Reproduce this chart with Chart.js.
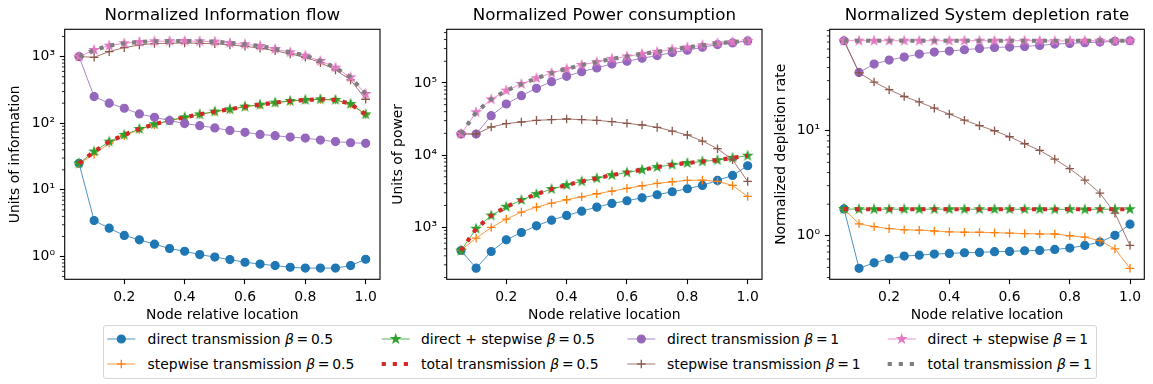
<!DOCTYPE html>
<html><head><meta charset="utf-8">
<script src="https://cdn.jsdelivr.net/npm/chart.js@4.4.1/dist/chart.umd.min.js"></script>
<style>
html,body{margin:0;padding:0;background:#fff;width:1153px;height:384px;overflow:hidden;font-family:"DejaVu Sans";}
canvas{position:absolute;top:0;}
#legendBox{position:absolute;left:103.3px;top:325.3px;width:994px;height:54px;border:1px solid #d6d6d6;border-radius:3px;box-sizing:border-box;background:#fff;}
.lt{position:absolute;font-family:"DejaVu Sans";font-size:13.9px;line-height:16px;white-space:nowrap;color:#000;}
#legendSvg{position:absolute;left:0;top:0;}
</style></head><body>
<canvas id="c1" width="386" height="330" style="left:0px"></canvas>
<canvas id="c2" width="384" height="330" style="left:384px"></canvas>
<canvas id="c3" width="384" height="330" style="left:766px"></canvas>
<div id="legendBox"></div>
<svg id="legendSvg" width="1153" height="384"></svg>
<div id="legendText"></div>
<script>
// ---------- data ----------
const xs = [0.05,0.1,0.15,0.2,0.25,0.3,0.35,0.4,0.45,0.5,0.55,0.6,0.65,0.7,0.75,0.8,0.85,0.9,0.95,1.0];
const xTickValues = [0.2,0.4,0.6,0.8,1.0];

const seriesNames = ['direct transmission','stepwise transmission','direct + stepwise','total transmission',
                     'direct transmission','stepwise transmission','direct + stepwise','total transmission'];
const seriesBetas = ['0.5','0.5','0.5','0.5','1','1','1','1'];

// Panel 1: Normalized Information flow
const infoDirect05 = [25,3.47,2.66,2.07,1.78,1.53,1.32,1.2,1.07,0.98,0.9,0.82,0.77,0.73,0.69,0.67,0.67,0.67,0.73,0.91];
const infoStep05   = [25,34,50.5,65,80,95.5,108.7,121.8,135,149,161,177,189,203,215,223,228,223,194,135];
const infoBoth05   = [25,37.6,53,67,82,97,110,123,136,150,162,178,190,204,216,224,229,224,195,136];
const infoTotal05  = [25,37.6,53,67,82,97,110,123,136,150,162,178,190,204,216,224,229,224,195,136];
const infoDirect1  = [1000,251,200,168,138,123,110,99,92,85,78,73,68,65,62,60,56,53,51,50];
const infoStep1    = [1000,977,1190,1365,1500,1570,1585,1600,1585,1560,1500,1430,1333,1230,1096,977,813,631,447,229];
const infoBoth1    = [1000,1259,1462,1585,1660,1698,1710,1720,1698,1680,1600,1530,1445,1303,1161,1035,861,684,490,275];
const infoTotal1   = [1000,1259,1462,1585,1660,1698,1710,1720,1698,1680,1600,1530,1445,1303,1161,1035,861,684,490,275];

// Panel 2: Normalized Power consumption
const powDirect05 = [474,270,459,667,843,1044,1250,1452,1667,1895,2133,2322,2553,2812,3097,3406,3790,4447,5220,7110];
const powStep05   = [480,703,990,1291,1616,1895,2154,2397,2637,2904,3163,3444,3750,4040,4264,4447,4497,4305,3790,2667];
const powBoth05   = [474,950,1452,1915,2371,2873,3373,3830,4305,4760,5274,5720,6250,6800,7350,7750,8150,8500,9150,9795];
const powTotal05  = [474,950,1452,1915,2371,2873,3373,3830,4305,4760,5274,5720,6250,6800,7350,7750,8150,8500,9150,9795];
const powDirect1  = [19590,19590,35180,51050,66680,84330,104300,123800,143600,161500,183600,200000,220200,239800,263700,284200,312800,340600,359400,382700];
const powStep1    = [19590,19590,24500,27240,28730,30290,30960,31620,30960,30290,29030,27560,26130,24230,21540,18960,15650,12240,8610,4305];
const powBoth1    = [19590,39170,59290,78300,96800,116100,137600,156400,177800,195000,216000,233000,253000,270000,292000,311000,333000,355600,370900,384000];
const powTotal1   = [19590,39170,59290,78300,96800,116100,137600,156400,177800,195000,216000,233000,253000,270000,292000,311000,333000,355600,370900,384000];

// Panel 3: Normalized System depletion rate
const depDirect05 = [1.8,0.49,0.553,0.604,0.64,0.654,0.669,0.679,0.689,0.694,0.705,0.71,0.72,0.725,0.741,0.763,0.809,0.87,1.01,1.29];
const depStep05   = [1.8,1.30,1.22,1.17,1.14,1.13,1.11,1.09,1.08,1.08,1.07,1.06,1.05,1.04,1.04,1.0,0.97,0.90,0.75,0.49];
const depBoth05   = [1.8,1.79,1.79,1.79,1.79,1.79,1.79,1.79,1.79,1.79,1.79,1.79,1.79,1.79,1.78,1.79,1.78,1.79,1.79,1.79];
const depTotal05  = [1.8,1.79,1.79,1.79,1.79,1.79,1.79,1.79,1.79,1.79,1.79,1.79,1.79,1.79,1.79,1.79,1.79,1.79,1.79,1.79];
const depDirect1  = [72,35.9,43.2,47.1,50.3,53.7,56.1,57.4,59.1,60.8,62.2,62.7,63.6,65.0,66.9,67.9,68.9,69.9,71.0,72];
const depStep1    = [72,35.7,29.1,24.6,21.2,18.8,16.4,14.4,12.6,11.2,10.0,8.77,7.52,6.50,5.37,4.35,3.39,2.55,1.64,0.81];
const depBoth1    = [72,72,72,72,72,72,72,72,72,72,72,72,72,72,71.5,72,72,72,72,72];
const depTotal1   = [72,72,72,72,72,72,72,72,72,72,72,72,72,72,72,72,72,72,72,72];

// ---------- styles ----------
const FONT = "'DejaVu Sans'";
Chart.defaults.font.family = FONT;
const STY = [
  {color:'#1f77b4', marker:'circle'},
  {color:'#ff7f0e', marker:'cross'},
  {color:'#2ca02c', marker:'star'},
  {color:'#d62728', marker:'dotted'},
  {color:'#9467bd', marker:'circle'},
  {color:'#8c564b', marker:'cross'},
  {color:'#e377c2', marker:'star'},
  {color:'#7f7f7f', marker:'dotted'}
];
const STAR_R = 4.3, STAR_IN = 0.381966;

function starPoints(cx, cy, r) {
  const p = [];
  for (let k = 0; k < 10; k++) {
    const rr = k % 2 === 0 ? r : r * STAR_IN;
    const a = -Math.PI / 2 + k * Math.PI / 5;
    p.push([cx + rr * Math.cos(a), cy + rr * Math.sin(a)]);
  }
  return p;
}
function starImg(color) {
  const c = document.createElement('canvas');
  c.width = 14; c.height = 14;
  const g = c.getContext('2d');
  g.beginPath();
  starPoints(7, 7, STAR_R).forEach((q, k) => k ? g.lineTo(q[0], q[1]) : g.moveTo(q[0], q[1]));
  g.closePath();
  g.fillStyle = color; g.fill();
  g.strokeStyle = color; g.lineWidth = 1.2; g.stroke();
  return c;
}

function makeDataset(vals, i) {
  const s = STY[i];
  const base = {
    label: seriesNames[i] + ' β = ' + seriesBetas[i],
    data: xs.map((x, k) => ({x: x, y: vals[k]})),
    order: 8 - i, borderColor: s.color, backgroundColor: s.color, tension: 0, fill: false
  };
  if (s.marker === 'dotted') {
    return Object.assign(base, {borderWidth: 4.17, borderDash: [4.17, 6.88], borderCapStyle: 'butt', pointRadius: 0, pointHoverRadius: 0});
  }
  return Object.assign(base, {
    borderWidth: 0.8,
    pointStyle: s.marker === 'star' ? starImg(s.color) : s.marker,
    pointRadius: s.marker === 'circle' ? 4.0 : 4.3,
    pointBorderWidth: s.marker === 'circle' ? 1.2 : 1.3,
    pointBackgroundColor: s.color, pointBorderColor: s.color, pointHoverRadius: 4
  });
}

const SUP = {'-':'⁻','0':'⁰','1':'¹','2':'²','3':'³','4':'⁴','5':'⁵','6':'⁶','7':'⁷','8':'⁸','9':'⁹'};
function isPow10(v) { const e = Math.log10(v); return Math.abs(e - Math.round(e)) < 1e-9; }
function logTicks(min, max) {
  const t = [];
  for (let d = Math.floor(Math.log10(min)); d <= Math.ceil(Math.log10(max)); d++) {
    for (let k = 1; k <= 9; k++) {
      const v = k * Math.pow(10, d);
      if (v >= min && v <= max) t.push({value: v});
    }
  }
  return t;
}

const PLOT_TOP = 29.3, PLOT_BOTTOM = 279.3, CANVAS_H = 330;

const framePlugin = {
  id: 'frame',
  afterDraw(chart) {
    const {ctx} = chart;
    const {left, top, right, bottom} = chart.chartArea;
    const y = chart.scales.y;
    ctx.save();
    ctx.strokeStyle = '#000';
    ctx.lineWidth = 0.83;
    y.ticks.forEach(t => {
      if (!isPow10(t.value)) {
        const py = y.getPixelForValue(t.value);
        ctx.beginPath(); ctx.moveTo(left, py); ctx.lineTo(left - 2.78, py); ctx.stroke();
      }
    });
    ctx.lineWidth = 1.1;
    ctx.strokeRect(left, top, right - left, bottom - top);
    ctx.restore();
  }
};

function makeChart(id, cfg) {
  return new Chart(document.getElementById(id), {
    type: 'line',
    data: {datasets: cfg.series.map(makeDataset)},
    options: {
      responsive: false, animation: false, devicePixelRatio: 1,
      layout: {padding: {left: 0, right: cfg.padRight, top: 0, bottom: 0}},
      plugins: {
        legend: {display: false}, tooltip: {enabled: false},
        title: {display: true, text: cfg.title, fullSize: false, color: '#000',
                font: {family: FONT, size: 16.67, weight: 'normal'}, padding: {top: 5.5, bottom: 3.8}}
      },
      scales: {
        x: {
          type: 'linear', min: 0.0025, max: 1.0475,
          afterBuildTicks: s => { s.ticks = xTickValues.map(v => ({value: v})); },
          afterFit: s => { s.height = CANVAS_H - PLOT_BOTTOM; },
          ticks: {autoSkip: false, maxRotation: 0, color: '#000', font: {family: FONT, size: 13.9}, padding: 4.86,
                  callback: v => Number(v).toFixed(1)},
          grid: {display: true, drawOnChartArea: false, drawTicks: true, tickLength: 4.86, tickColor: '#000', tickWidth: 1.1},
          border: {display: false},
          title: {display: true, text: 'Node relative location', color: '#000', font: {family: FONT, size: 13.9}, padding: {top: 0, bottom: 5.9}}
        },
        y: {
          type: 'logarithmic', min: cfg.ymin, max: cfg.ymax,
          afterBuildTicks: s => { s.ticks = logTicks(cfg.ymin, cfg.ymax); },
          afterFit: s => { s.width = cfg.yWidth; },
          ticks: {autoSkip: false, color: '#000', font: {family: FONT, size: 13.9}, padding: 4.86,
                  callback: v => isPow10(v) ? '10' + String(Math.round(Math.log10(v))).split('').map(ch => SUP[ch]).join('') : ''},
          grid: {display: true, drawOnChartArea: false, drawTicks: true, tickLength: 4.86, tickWidth: 1.1,
                 tickColor: c => (c.tick && isPow10(c.tick.value)) ? '#000' : 'rgba(0,0,0,0)'},
          border: {display: false},
          title: {display: true, text: cfg.ylabel, color: '#000', font: {family: FONT, size: 13.9}, padding: {top: cfg.yTitlePad, bottom: 0}}
        }
      }
    },
    plugins: [framePlugin]
  });
}

makeChart('c1', {title: 'Normalized Information flow', ylabel: 'Units of information',
  series: [infoDirect05, infoStep05, infoBoth05, infoTotal05, infoDirect1, infoStep1, infoBoth1, infoTotal1],
  ymin: 0.455, ymax: 2570, yWidth: 64.7, padRight: 6, yTitlePad: 7.4});
makeChart('c2', {title: 'Normalized Power consumption', ylabel: 'Units of power',
  series: [powDirect05, powStep05, powBoth05, powTotal05, powDirect1, powStep1, powBoth1, powTotal1],
  ymin: 189, ymax: 555000, yWidth: 62.7, padRight: 6, yTitlePad: 6.4});
makeChart('c3', {title: 'Normalized System depletion rate', ylabel: 'Normalized depletion rate',
  series: [depDirect05, depStep05, depBoth05, depTotal05, depDirect1, depStep1, depBoth1, depTotal1],
  ymin: 0.385, ymax: 92.5, yWidth: 63.7, padRight: 5.7, yTitlePad: 6.6});

// ---------- legend ----------
const lineX = [107.3, 381.7, 627.3, 887.7];
const textX = [147.6, 421.0, 667.0, 927.6];
const rowY = [339, 364];
const rowBase = [344, 368.7];
const HANDLE = 28;
const svg = document.getElementById('legendSvg');
const NS = 'http://www.w3.org/2000/svg';
function el(tag, attrs) { const e = document.createElementNS(NS, tag); for (const k in attrs) e.setAttribute(k, attrs[k]); svg.appendChild(e); return e; }
const lt = document.getElementById('legendText');
for (let i = 0; i < 8; i++) {
  const col = Math.floor(i / 2), row = i % 2, s = STY[i];
  const x0 = lineX[col], y = rowY[row], cx = x0 + HANDLE / 2;
  if (s.marker === 'dotted') {
    el('line', {x1: x0, y1: y, x2: x0 + HANDLE, y2: y, stroke: s.color, 'stroke-width': 4.17, 'stroke-dasharray': '4.17 6.88'});
  } else {
    el('line', {x1: x0, y1: y, x2: x0 + HANDLE, y2: y, stroke: s.color, 'stroke-width': 0.8});
    if (s.marker === 'circle') el('circle', {cx: cx, cy: y, r: 4.0, fill: s.color, stroke: s.color, 'stroke-width': 1.2});
    if (s.marker === 'cross') {
      el('line', {x1: cx - 4.3, y1: y, x2: cx + 4.3, y2: y, stroke: s.color, 'stroke-width': 1.3});
      el('line', {x1: cx, y1: y - 4.3, x2: cx, y2: y + 4.3, stroke: s.color, 'stroke-width': 1.3});
    }
    if (s.marker === 'star') el('polygon', {points: starPoints(cx, y, STAR_R).map(q => q.join(',')).join(' '), fill: s.color, stroke: s.color, 'stroke-width': 1.2});
  }
  const d = document.createElement('div');
  d.className = 'lt';
  d.style.left = textX[col] + 'px';
  d.style.top = (rowBase[row] - 12.8) + 'px';
  d.innerHTML = seriesNames[i] + ' <i>β</i>\u2009=\u2009' + seriesBetas[i];
  lt.appendChild(d);
}
</script>
</body></html>
